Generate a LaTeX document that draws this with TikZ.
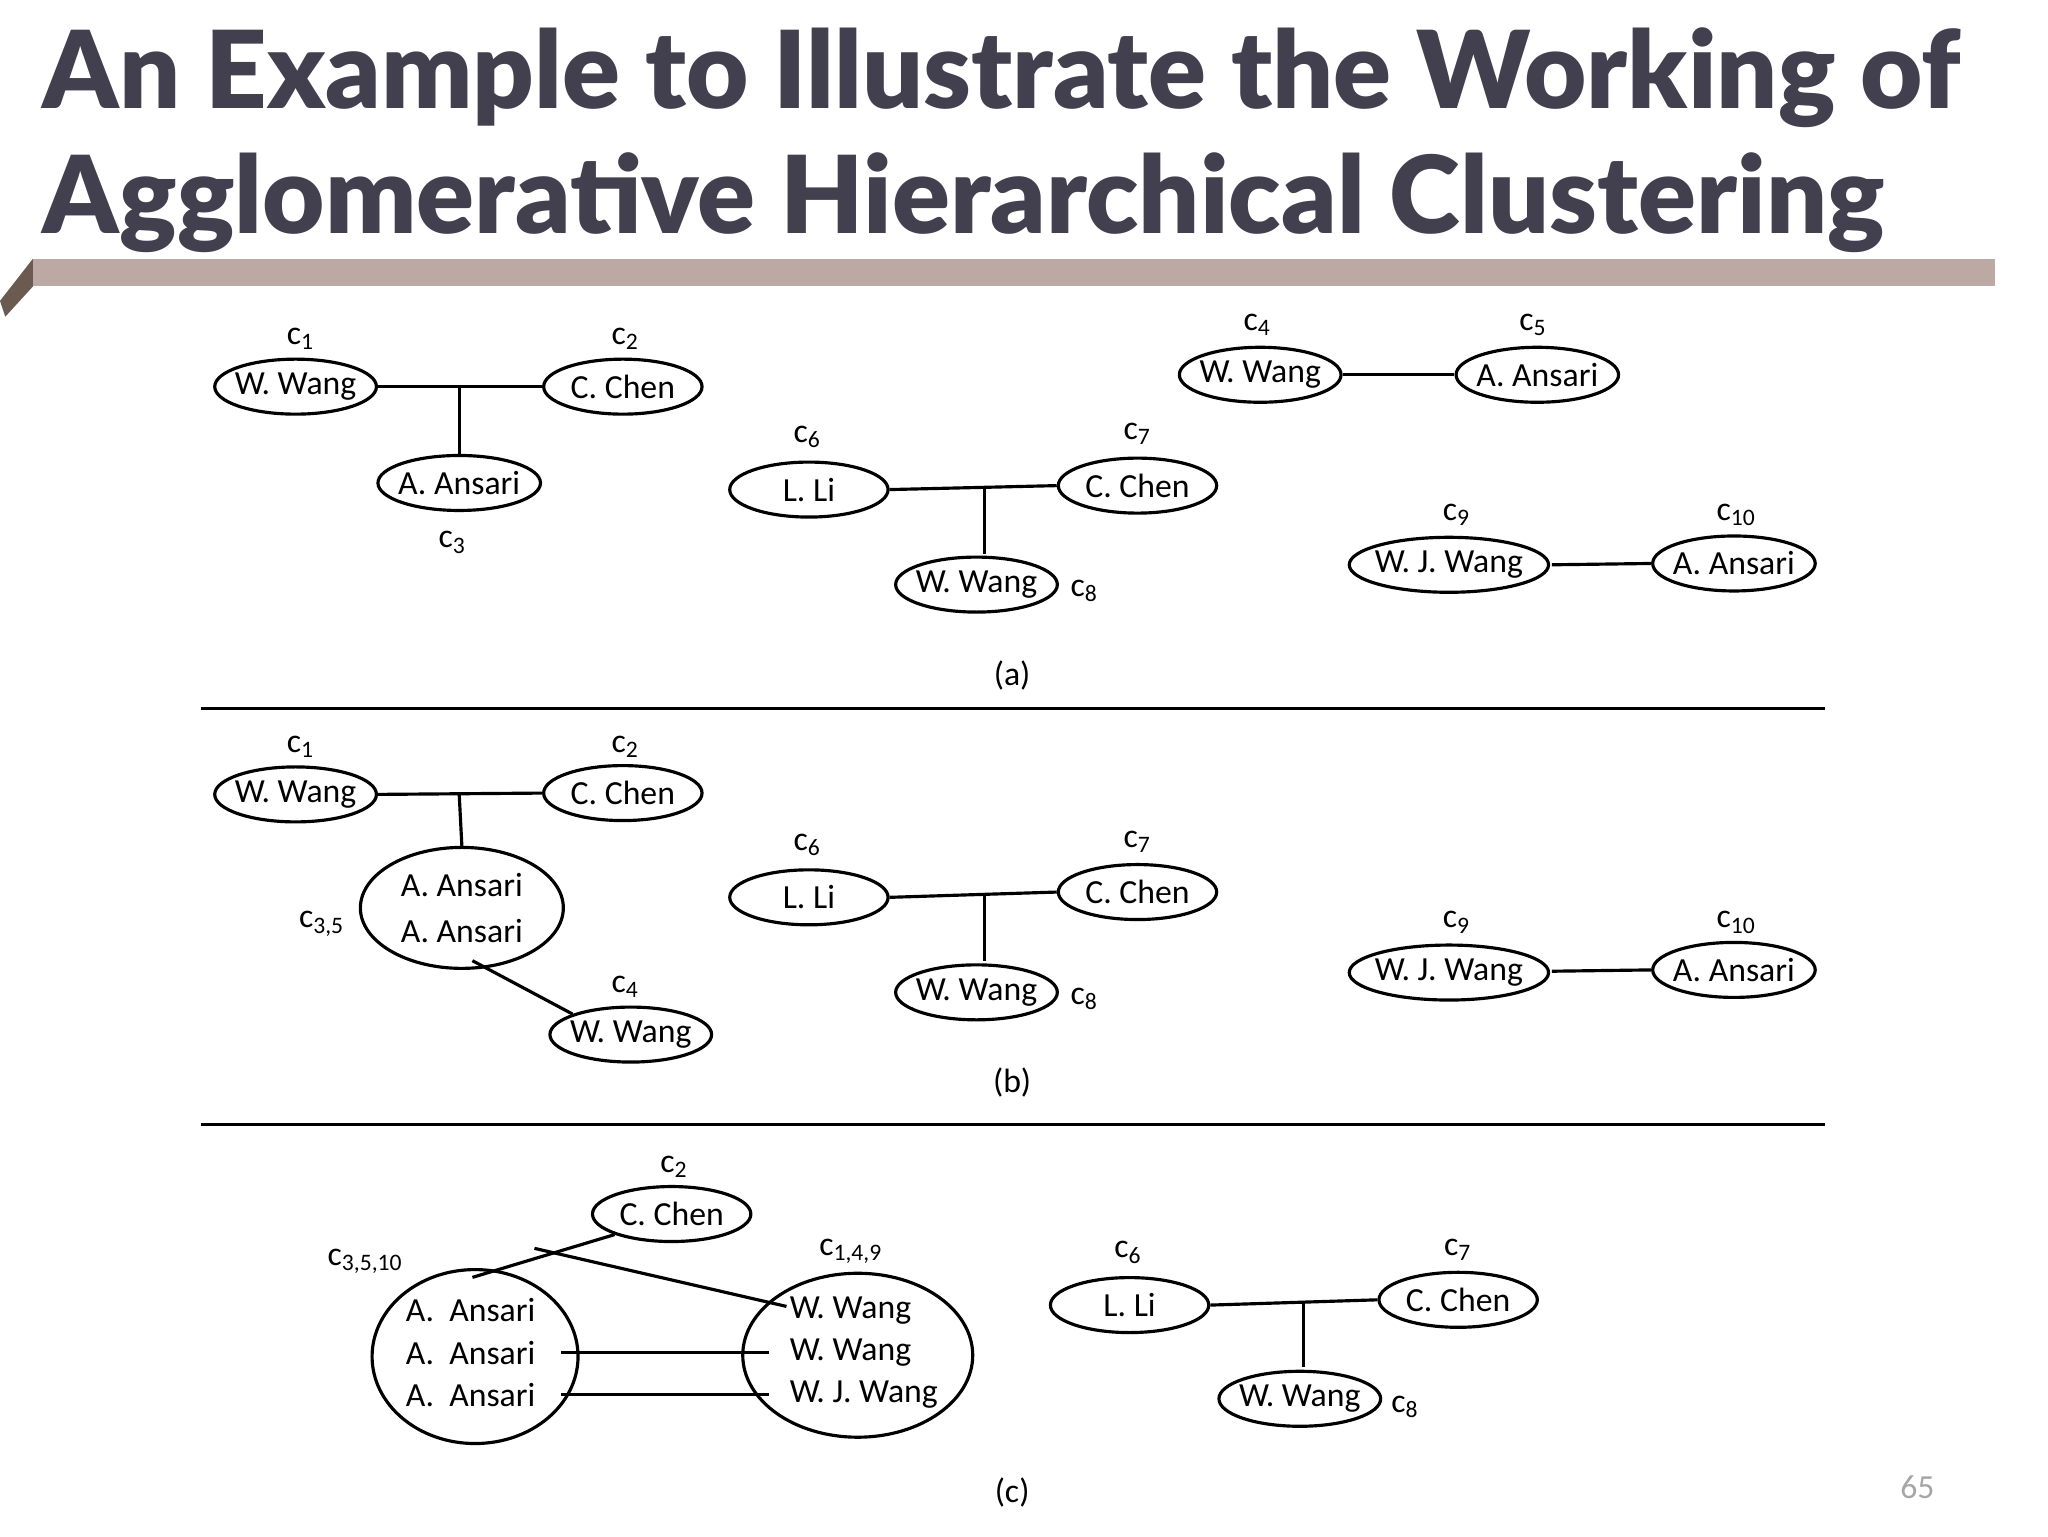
\documentclass[tikz,border=0pt]{standalone}
\usepackage{fontspec}
\setmainfont{Carlito}
\newfontfamily\titlefont{Lato Black}
\usetikzlibrary{shapes.geometric}
\definecolor{titlegray}{HTML}{42404F}
\definecolor{bartan}{HTML}{BCA9A3}
\definecolor{bevel}{HTML}{6B5A50}
\tikzset{
 el/.style={ellipse,draw,line width=0.9pt,minimum width=1.584cm,minimum height=0.55cm,inner sep=-1pt,font=\fontsize{9.6}{11}\selectfont},
 elw/.style={el,minimum width=1.61cm},
 elj/.style={el,minimum width=1.8cm},
 lab/.style={font=\fontsize{9.6}{11}\selectfont,inner sep=0pt},
 conn/.style={line width=0.9pt},
}
\newcommand{\cs}[1]{c\textsubscript{#1}}
\begin{document}
\begin{tikzpicture}[x=0.0132cm,y=-0.0132cm]
\useasboundingbox (0,0) rectangle (1552,1164);
% title
\node[anchor=base west,inner sep=0pt,text=titlegray,font=\titlefont\fontsize{30.6}{36}\selectfont] (t1) at (32,82) {An Example to Illustrate the Working of};
\node[anchor=base west,inner sep=0pt,text=titlegray,font=\titlefont\fontsize{30.6}{36}\selectfont] (t2) at (32,177) {Agglomerative Hierarchical Clustering};
\fill[bartan] (25,196) rectangle (1512,217);
\fill[bevel] (0,228) -- (25,196) -- (25,217) -- (4,240) -- cycle;

% ---------- (a)
\node[elw] (a1) at (224,293) {W. Wang};
\node[lab] at (228,257) {\cs{1}};
\node[el] (a2) at (472,293) {C. Chen};
\node[lab] at (474,257) {\cs{2}};
\node[el] (a3) at (348,366) {A. Ansari};
\node[lab] at (343,411) {\cs{3}};
\draw[conn] (a1.east) -- (a2.west);
\coordinate (a12) at (348,293);
\draw[conn] (a12) -- (a3.north);

\node[el] (a6) at (613,371) {L. Li};
\node[lab] at (612,331) {\cs{6}};
\node[el] (a7) at (862,368) {C. Chen};
\node[lab] at (862,329) {\cs{7}};
\node[el] (a8) at (740,443) {W. Wang};
\node[lab] at (822,448) {\cs{8}};
\draw[conn] (a6.east) -- (a7.west);
\coordinate (a67) at (746,370);
\draw[conn] (a67) -- (746,420);

\node[el] (a4) at (955,284) {W. Wang};
\node[lab] at (953,246) {\cs{4}};
\node[el] (a5) at (1165,284) {A. Ansari};
\node[lab] at (1162,246) {\cs{5}};
\draw[conn] (a4.east) -- (a5.west);

\node[elj] (a9) at (1098,428) {W. J. Wang};
\node[lab] at (1104,390) {\cs{9}};
\node[el] (a10) at (1314,427) {A. Ansari};
\node[lab] at (1316,390) {\cs{10}};
\coordinate (a9e) at (1176,428);
\draw[conn] (a9e) -- (a10.west);

\node[lab] (la) at (767,512) {(a)};
\draw[conn] (152,537) -- (1383,537);

% ---------- (b)
\node[elw] (b1) at (224,602) {W. Wang};
\node[lab] at (228,566) {\cs{1}};
\node[el] (b2) at (472,601) {C. Chen};
\node[lab] at (474,566) {\cs{2}};
\draw[conn] (b1.east) -- (b2.west);
\node[el,minimum width=2.03cm,minimum height=1.21cm,align=center] (b35) at (350,688) {A. Ansari\\[2pt]A. Ansari};
\node[lab] at (244,700) {\cs{3,5}};
\coordinate (b12) at (348,602);
\draw[conn] (b12) -- (b35.north);
\node[el] (b4) at (478,784) {W. Wang};
\node[lab] at (474,748) {\cs{4}};
\coordinate (b35s) at (358,728);
\draw[conn] (b35s) -- (b4.north west);

\node[el] (b6) at (613,680) {L. Li};
\node[lab] at (612,640) {\cs{6}};
\node[el] (b7) at (862,676) {C. Chen};
\node[lab] at (862,638) {\cs{7}};
\node[el] (b8) at (740,752) {W. Wang};
\node[lab] at (822,757) {\cs{8}};
\draw[conn] (b6.east) -- (b7.west);
\coordinate (b67) at (746,678);
\draw[conn] (b67) -- (746,728);

\node[elj] (b9) at (1098,737) {W. J. Wang};
\node[lab] at (1104,699) {\cs{9}};
\node[el] (b10) at (1314,735) {A. Ansari};
\node[lab] at (1316,699) {\cs{10}};
\coordinate (b9e) at (1176,736);
\draw[conn] (b9e) -- (b10.west);

\node[lab] (lb) at (767,820) {(b)};
\draw[conn] (152,852) -- (1383,852);

% ---------- (c)
\node[el] (c2) at (509,920) {C. Chen};
\node[lab] at (511,884) {\cs{2}};
\node[el,minimum width=2.06cm,minimum height=1.74cm] (cA) at (360,1028) {};
\node[lab] at (277,956) {\cs{3,5,10}};
\node[lab,anchor=west] (cA1) at (307,993) {A.\ \ Ansari};
\node[lab,anchor=west] (cA2) at (307,1025) {A.\ \ Ansari};
\node[lab,anchor=west] (cA3) at (307,1057) {A.\ \ Ansari};
\node[el,minimum width=2.3cm,minimum height=1.64cm] (cW) at (650,1027) {};
\node[lab] at (645,948) {\cs{1,4,9}};
\node[lab,anchor=west] (cW1) at (598,993) {W. Wang};
\node[lab,anchor=west] (cW2) at (598,1025) {W. Wang};
\node[lab,anchor=west] (cW3) at (598,1057) {W. J. Wang};
\coordinate (p1) at (358,968);
\coordinate (p2) at (405,946);
\coordinate (p3) at (425,1025);
\coordinate (p4) at (425,1057);
\coordinate (q2) at (596,990);
\coordinate (q3) at (583,1025);
\coordinate (q4) at (583,1057);
\draw[conn] (p1) -- (c2.south west);
\draw[conn] (p2) -- (q2);
\draw[conn] (p3) -- (q3);
\draw[conn] (p4) -- (q4);

\node[el] (c6) at (856,989) {L. Li};
\node[lab] at (855,949) {\cs{6}};
\node[el] (c7) at (1105,985) {C. Chen};
\node[lab] at (1105,947) {\cs{7}};
\node[el] (c8) at (985,1060) {W. Wang};
\node[lab] at (1065,1066) {\cs{8}};
\draw[conn] (c6.east) -- (c7.west);
\coordinate (c67) at (988,987);
\draw[conn] (c67) -- (988,1036);

\node[lab] (lc) at (767,1131) {(c)};
\node[lab,text=gray!70] (pg) at (1453,1127) {65};
\end{tikzpicture}
\end{document}
